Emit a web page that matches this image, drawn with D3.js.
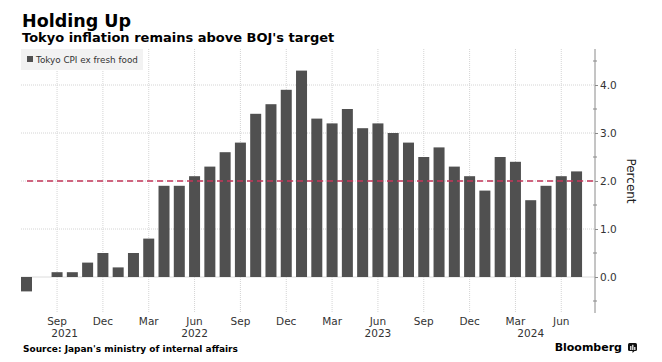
<!DOCTYPE html>
<html>
<head>
<meta charset="utf-8">
<script src="https://cdn.jsdelivr.net/npm/d3@7"></script>
<style>
  body { margin: 0; background: #fff; }
  svg { display: block; font-family: "DejaVu Sans", Verdana, sans-serif; }
</style>
</head>
<body>
<div id="chart"></div>
<script>
// Monthly readings, Jul 2021 - Jul 2024
const months = [
  "Jul 2021", "Aug 2021", "Sep 2021", "Oct 2021", "Nov 2021", "Dec 2021",
  "Jan 2022", "Feb 2022", "Mar 2022", "Apr 2022", "May 2022", "Jun 2022",
  "Jul 2022", "Aug 2022", "Sep 2022", "Oct 2022", "Nov 2022", "Dec 2022",
  "Jan 2023", "Feb 2023", "Mar 2023", "Apr 2023", "May 2023", "Jun 2023",
  "Jul 2023", "Aug 2023", "Sep 2023", "Oct 2023", "Nov 2023", "Dec 2023",
  "Jan 2024", "Feb 2024", "Mar 2024", "Apr 2024", "May 2024", "Jun 2024",
  "Jul 2024"
];
const cpiValues = [
  -0.3, 0.0, 0.1, 0.1, 0.3, 0.5,
  0.2, 0.5, 0.8, 1.9, 1.9, 2.1,
  2.3, 2.6, 2.8, 3.4, 3.6, 3.9,
  4.3, 3.3, 3.2, 3.5, 3.1, 3.2,
  3.0, 2.8, 2.5, 2.7, 2.3, 2.1,
  1.8, 2.5, 2.4, 1.6, 1.9, 2.1,
  2.2
];
const tickMonths = ["Sep 2021", "Dec 2021", "Mar 2022", "Jun 2022", "Sep 2022", "Dec 2022",
  "Mar 2023", "Jun 2023", "Sep 2023", "Dec 2023", "Mar 2024", "Jun 2024"];
const yearLabels = ["2021", "2022", "2023", "2024"];
const yearAnchors = ["Sep 2021", "Jun 2022", "Jun 2023", "Apr 2024"];
const yearShift = [0.5, 0, 0, 0];
const yTicks = [0, 1, 2, 3, 4];
const target = 2.0;
const seriesName = "Tokyo CPI ex fresh food";

const W = 662, H = 362;
const svg = d3.select("#chart").append("svg").attr("width", W).attr("height", H);

const axisX = 595, plotLeft = 21, plotTop = 49, plotBottom = 313;

const x = d3.scaleBand()
  .domain(months)
  .range([18.86, 584.2])
  .paddingInner(0.28)
  .paddingOuter(0.14);

const y = d3.scaleLinear()
  .domain([-0.75, 4.75])
  .range([plotBottom, plotTop]);

const cx = m => x(m) + x.bandwidth() / 2;

// Title + subtitle
svg.append("text").attr("x", 22).attr("y", 27)
  .style("font-size", "17.5px").style("font-weight", "bold").attr("fill", "#000")
  .text("Holding Up");
svg.append("text").attr("x", 22).attr("y", 42)
  .style("font-size", "13px").style("font-weight", "bold").attr("fill", "#000")
  .text("Tokyo inflation remains above BOJ's target");

// Vertical grid at labelled months
svg.append("g").selectAll("line").data(tickMonths).join("line")
  .attr("x1", d => cx(d)).attr("x2", d => cx(d))
  .attr("y1", plotTop).attr("y2", plotBottom)
  .attr("stroke", "#d4d4d4").attr("stroke-width", 1)
  .attr("stroke-dasharray", "1,1");

// Horizontal grid
svg.append("g").selectAll("line").data(yTicks.filter(d => d !== 0)).join("line")
  .attr("x1", plotLeft).attr("x2", axisX)
  .attr("y1", d => y(d)).attr("y2", d => y(d))
  .attr("stroke", "#d4d4d4").attr("stroke-width", 1)
  .attr("stroke-dasharray", "1,1");

// zero line
svg.append("line")
  .attr("x1", plotLeft).attr("x2", axisX)
  .attr("y1", y(0)).attr("y2", y(0))
  .attr("stroke", "#dcdcdc").attr("stroke-width", 1);

// Legend
svg.append("rect").attr("x", 21).attr("y", 49).attr("width", 122).attr("height", 21)
  .attr("fill", "#f2f2f2");
svg.append("rect").attr("x", 27).attr("y", 56).attr("width", 6).attr("height", 6)
  .attr("fill", "#505050");
svg.append("text").attr("x", 36).attr("y", 63)
  .style("font-size", "8.8px").attr("fill", "#333")
  .text(seriesName);

// Bars
svg.append("g").selectAll("rect").data(months).join("rect")
  .attr("x", d => x(d))
  .attr("width", x.bandwidth())
  .attr("y", (d, i) => y(Math.max(0, cpiValues[i])))
  .attr("height", (d, i) => Math.abs(y(cpiValues[i]) - y(0)))
  .attr("fill", "#505050");

// BOJ target
svg.append("line")
  .attr("x1", 27).attr("x2", axisX)
  .attr("y1", y(target)).attr("y2", y(target))
  .attr("stroke", "#c4365a").attr("stroke-width", 1.3)
  .attr("stroke-dasharray", "6,4");

// Right axis
const yAxis = d3.axisRight(y)
  .tickValues(yTicks)
  .tickFormat(d3.format(".1f"))
  .tickSize(3)
  .tickPadding(2);
const gy = svg.append("g").attr("transform", `translate(${axisX},0)`).call(yAxis);
gy.select(".domain").attr("stroke", "#8a8a8a").attr("d", `M0,${plotTop}V${plotBottom}`);
gy.selectAll(".tick line").attr("stroke", "#8a8a8a");
gy.selectAll(".tick text").attr("fill", "#333").style("font-size", "10.5px")
  .style("font-family", "DejaVu Sans, Verdana, sans-serif");
// minor ticks
svg.append("g").selectAll("line").data(d3.range(-0.5, 4.6, 1)).join("line")
  .attr("x1", axisX - 2).attr("x2", axisX + 2)
  .attr("y1", d => y(d)).attr("y2", d => y(d))
  .attr("stroke", "#8a8a8a");

svg.append("text")
  .attr("transform", `translate(627,${y(2)}) rotate(90)`)
  .attr("text-anchor", "middle")
  .style("font-size", "12px").attr("fill", "#222")
  .text("Percent");

// Bottom labels
svg.append("g").selectAll("text").data(tickMonths).join("text")
  .attr("x", d => cx(d)).attr("y", 325)
  .attr("text-anchor", "middle")
  .style("font-size", "10.5px").attr("fill", "#333")
  .text(d => d.slice(0, 3));
svg.append("g").selectAll("text").data(yearLabels).join("text")
  .attr("x", (d, i) => cx(yearAnchors[i]) + yearShift[i] * x.step())
  .attr("y", 337)
  .attr("text-anchor", "middle")
  .style("font-size", "10.5px").attr("fill", "#333")
  .text(d => d);

// Footer
svg.append("text").attr("x", 23).attr("y", 352)
  .style("font-size", "9px").style("font-weight", "bold").attr("fill", "#000")
  .text("Source: Japan's ministry of internal affairs");
svg.append("text").attr("x", 622).attr("y", 351)
  .attr("text-anchor", "end")
  .style("font-size", "11px").style("font-weight", "bold").attr("fill", "#000")
  .text("Bloomberg");
const logo = svg.append("g").attr("transform", "translate(628,343)");
logo.append("rect").attr("width", 9).attr("height", 8).attr("rx", 1.5).attr("fill", "#111");
logo.append("path").attr("d", "M4.5,8 L4.5,10 L6.5,8 Z").attr("fill", "#111");
logo.append("rect").attr("x", 2.2).attr("y", 3).attr("width", 1.2).attr("height", 4).attr("fill", "#fff");
logo.append("rect").attr("x", 4.2).attr("y", 1.8).attr("width", 1.2).attr("height", 5.2).attr("fill", "#fff");
logo.append("rect").attr("x", 6.2).attr("y", 4).attr("width", 1.2).attr("height", 3).attr("fill", "#fff");
</script>
</body>
</html>
